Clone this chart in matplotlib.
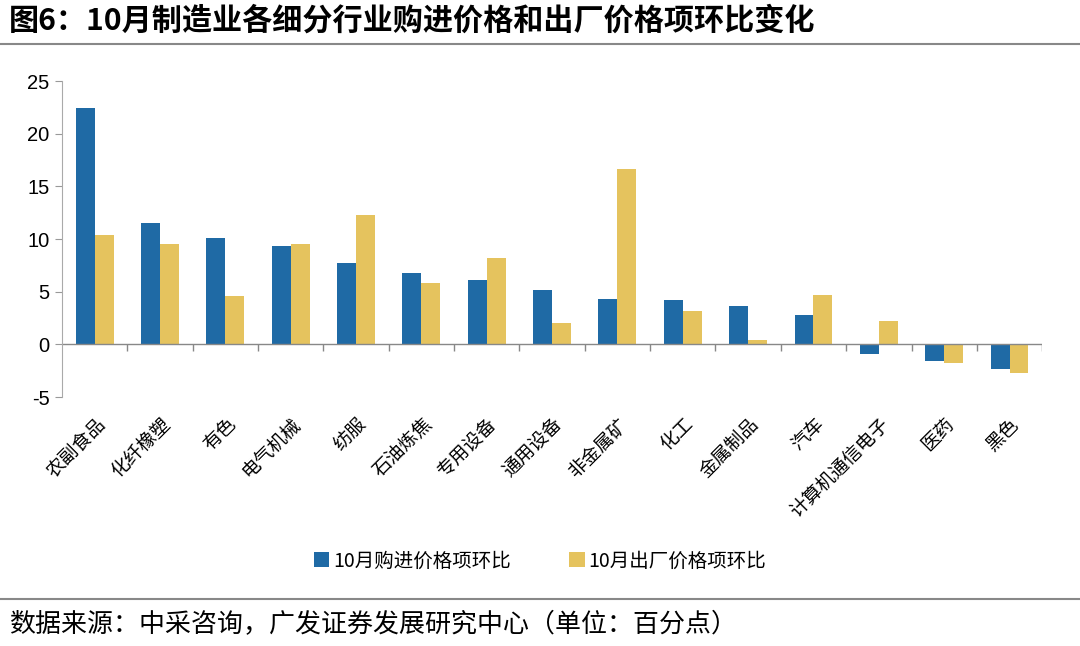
import matplotlib.pyplot as plt
import numpy as np

plt.rcParams['font.family'] = ['Noto Sans CJK SC', 'DejaVu Sans']

industries = ['农副食品', '化纤橡塑', '有色', '电气机械', '纺服', '石油炼焦', '专用设备',
              '通用设备', '非金属矿', '化工', '金属制品', '汽车', '计算机通信电子', '医药', '黑色']
purchase = [22.4, 11.5, 10.1, 9.3, 7.7, 6.8, 6.1, 5.2, 4.3, 4.2, 3.6, 2.8, -0.9, -1.6, -2.3]
factory = [10.4, 9.5, 4.6, 9.5, 12.3, 5.8, 8.2, 2.0, 16.6, 3.2, 0.4, 4.7, 2.2, -1.8, -2.7]
yticks = [-5, 0, 5, 10, 15, 20, 25]

blue = '#1f6aa5'
gold = '#e5c35e'

fig = plt.figure(figsize=(10.8, 6.46), dpi=100)
ax = fig.add_axes([0.0574, 0.3854, 0.9076, 0.4892])

x = np.arange(len(industries))
w = 0.29
ax.bar(x - w / 2, purchase, w, color=blue, label='10月购进价格项环比')
ax.bar(x + w / 2, factory, w, color=gold, label='10月出厂价格项环比')

ax.set_xlim(-0.5, len(industries) - 0.5)
ax.set_ylim(-5, 25)
ax.set_yticks(yticks)
ax.set_yticklabels([str(t) for t in yticks], fontsize=14.5, family=['Liberation Sans', 'DejaVu Sans'])
ax.tick_params(axis='y', length=5, color='#999999', pad=4)

ax.set_xticks(x)
ax.set_xticklabels(industries, rotation=45, ha='right', rotation_mode='anchor', fontsize=13.5)
ax.tick_params(axis='x', length=0, pad=12)

for s in ['top', 'right', 'bottom']:
    ax.spines[s].set_visible(False)
ax.spines['left'].set_color('#aaaaaa')

# zero line with category boundary ticks
ax.axhline(0, color='#888888', lw=1)
ax.vlines(np.arange(len(industries)) + 0.5, -0.6, 0, color='#888888', lw=1)

ax.legend(loc='center', bbox_to_anchor=(0.5, 1 - 561 / 646), bbox_transform=fig.transFigure,
          ncol=2, frameon=False, fontsize=14, handlelength=0.8, handleheight=0.8,
          handletextpad=0.2, columnspacing=3)

fig.text(0.008, 1 - 21 / 646, '图6：10月制造业各细分行业购进价格和出厂价格项环比变化',
         fontsize=21.7, fontweight='bold', va='center', ha='left')
fig.add_artist(plt.Line2D([0, 1], [1 - 44 / 646, 1 - 44 / 646], color='#888888', lw=1.5,
                          transform=fig.transFigure))
fig.add_artist(plt.Line2D([0, 1], [1 - 599 / 646, 1 - 599 / 646], color='#888888', lw=1.5,
                          transform=fig.transFigure))
fig.text(0.008, 1 - 625 / 646, '数据来源：中采咨询，广发证券发展研究中心（单位：百分点）',
         fontsize=18.7, va='center', ha='left')

fig.savefig('out.png', dpi=100)
